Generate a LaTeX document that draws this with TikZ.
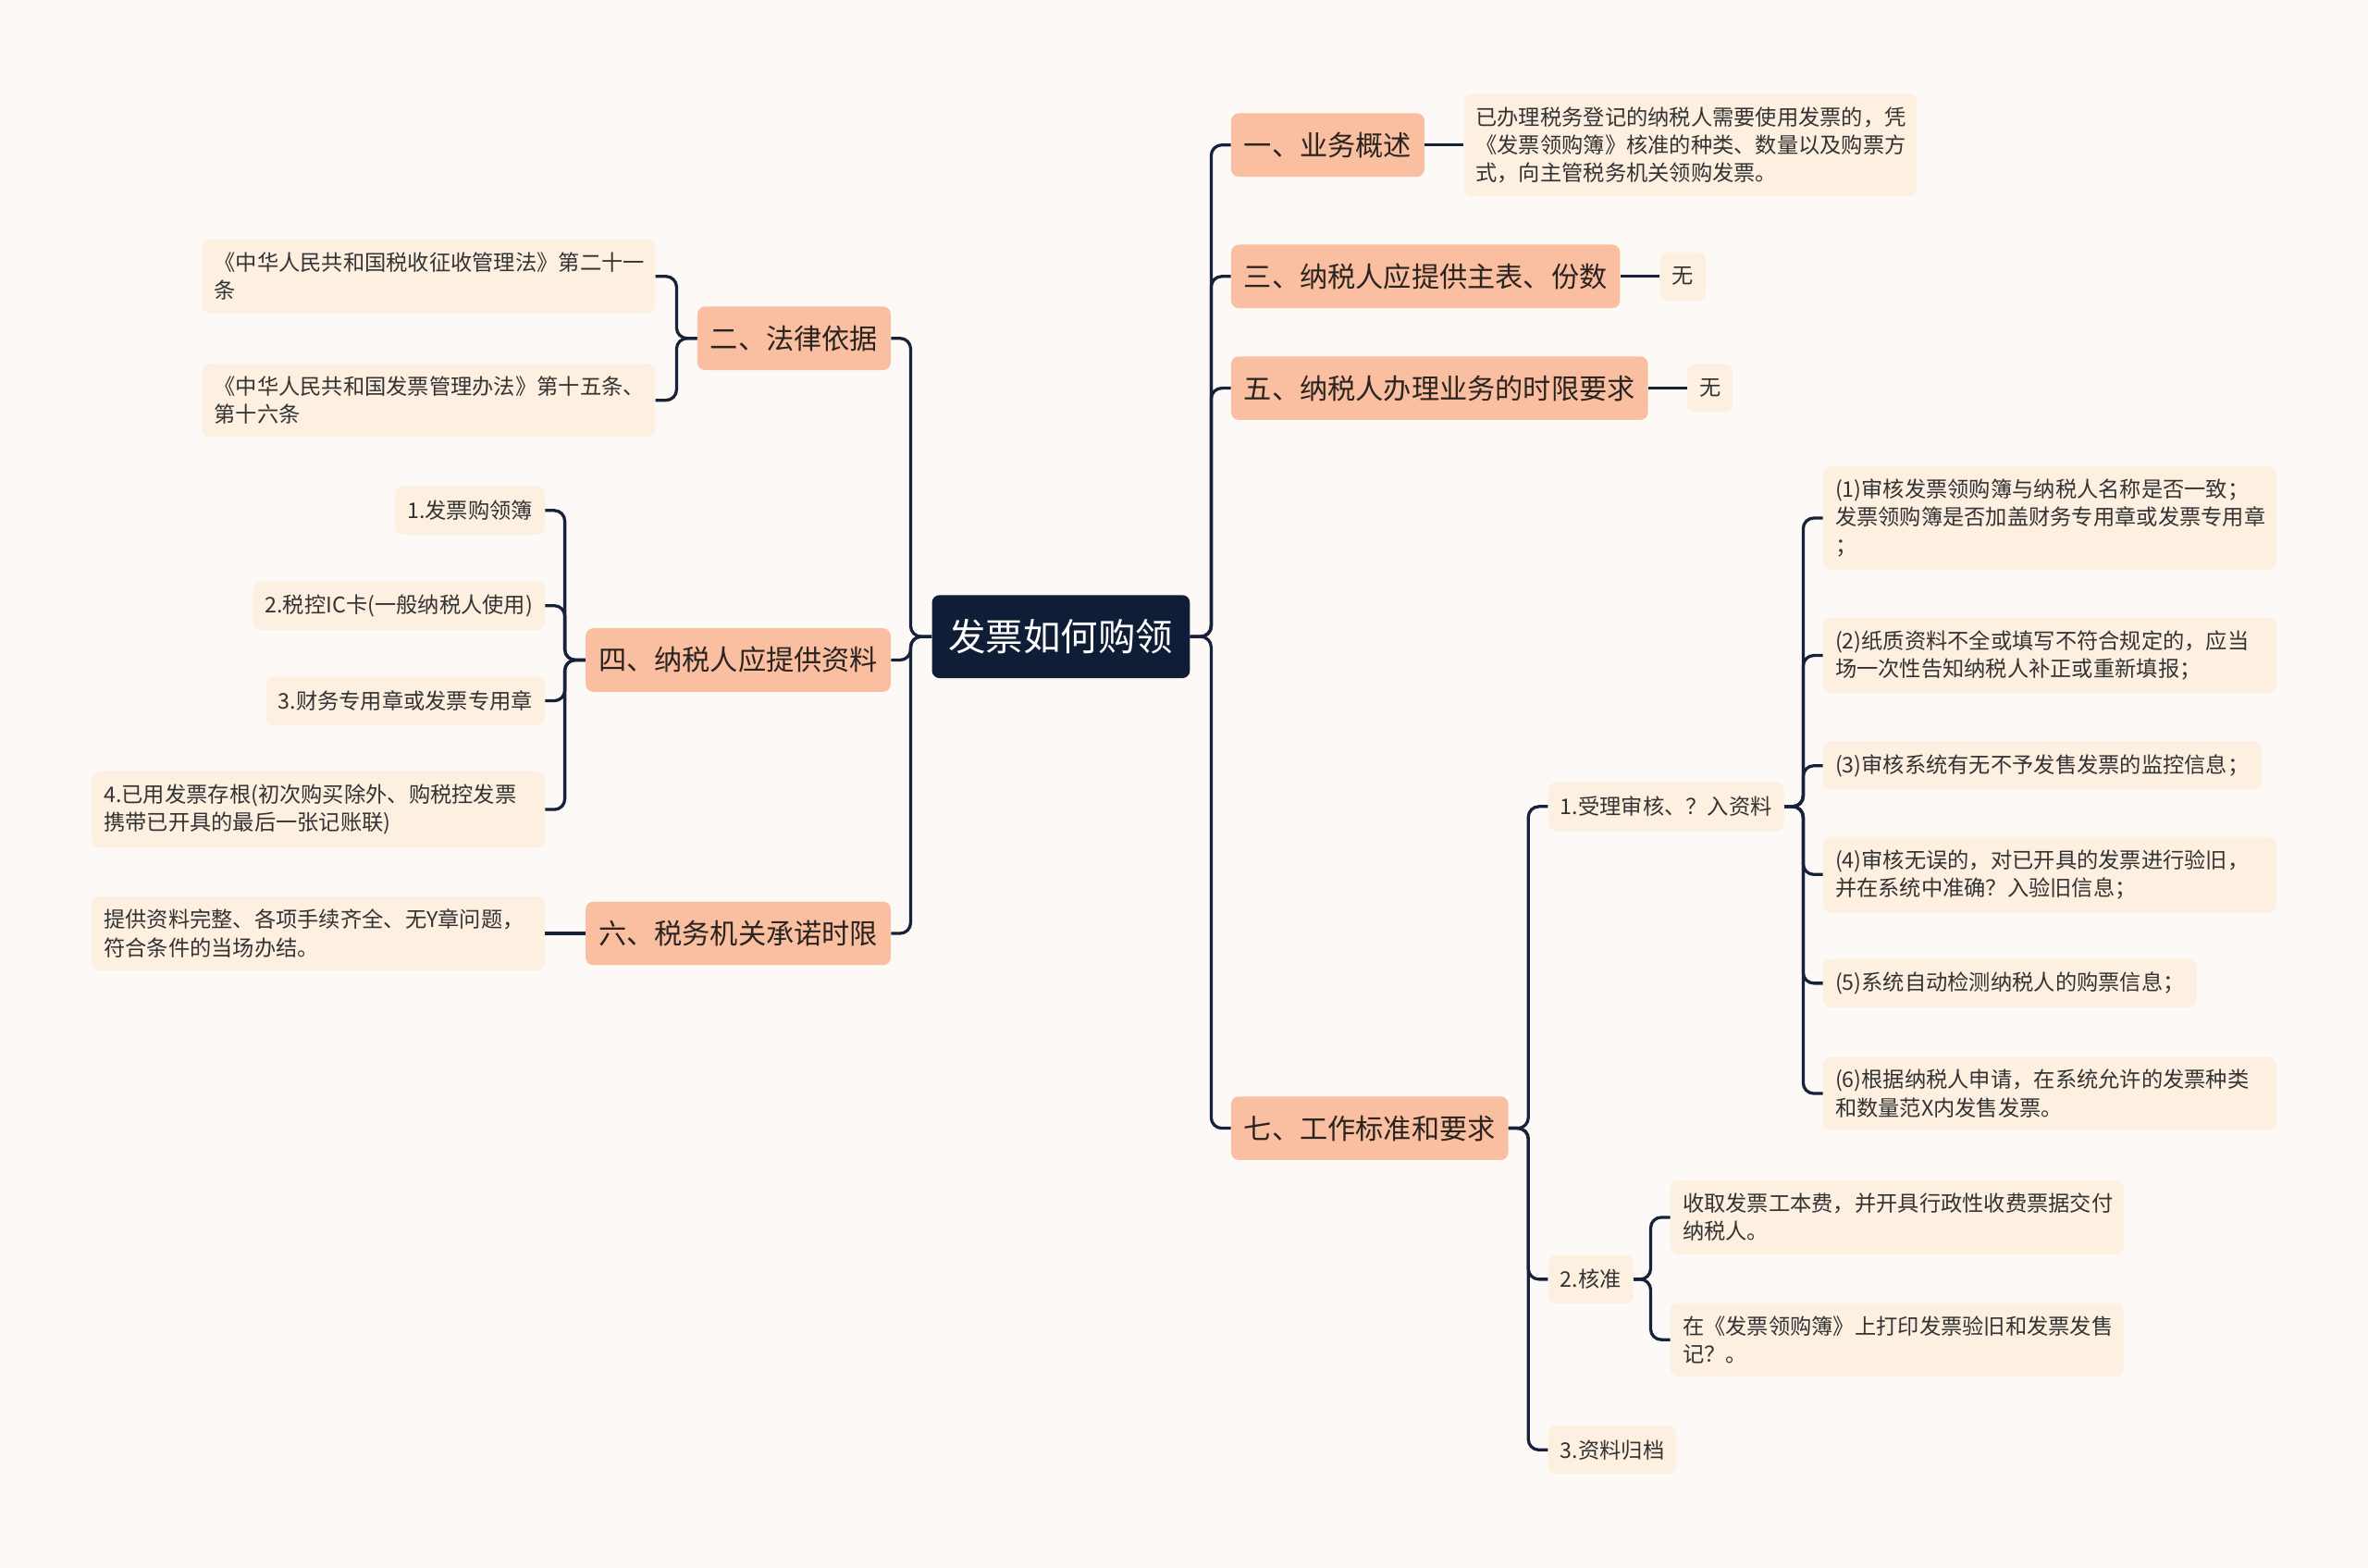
\documentclass[tikz,border=0pt]{standalone}
\usepackage{fontspec}
\newfontfamily\cjk{Noto Sans CJK SC}
\definecolor{paper}{HTML}{FDF9F7}
\definecolor{rootblue}{HTML}{0F1E36}
\definecolor{topicpeach}{HTML}{FABEA0}
\definecolor{leafcream}{HTML}{FDF0E1}
\definecolor{linknavy}{HTML}{16213A}
\definecolor{inkdark}{HTML}{2A2420}
\definecolor{inkgray}{HTML}{333333}

\begin{document}
\begin{tikzpicture}[
            x=1pt, y=-1pt,
            every node/.style={font=\cjk},
            box/.style={rectangle, rounded corners=5pt},
            rootnode/.style={box, fill=rootblue, text=white, font=\cjk\fontsize{24.8}{30}\selectfont, minimum height=55pt, inner xsep=11pt},
            topicnode/.style={box, fill=topicpeach, text=inkdark, font=\cjk\fontsize{18.5}{22}\selectfont, minimum height=42pt, inner xsep=8.5pt},
            leafnode/.style={box, fill=leafcream, text=inkgray, font=\cjk\fontsize{14.25}{18.5}\selectfont, align=left, inner xsep=8pt, inner ysep=8.5pt, minimum height=32pt},
            wrapnode/.style={leafnode, text width=284pt},
            link/.style={draw=linknavy, line width=2pt, rounded corners=7pt}
        ]

        % paper
        \fill[paper] (0,0) rectangle (1568,1038);
        \useasboundingbox (0,0) rectangle (1568,1038);

        % Nodes — root in the middle, topics on both sides
        \node[rootnode] (root) at (702.5,421.5) {发票如何购领};

        \node[topicnode, anchor=west] (t1) at (815,96) {一、业务概述};
        \node[topicnode, anchor=west] (t3) at (815,183) {三、纳税人应提供主表、份数};
        \node[topicnode, anchor=west] (t5) at (815,257) {五、纳税人办理业务的时限要求};
        \node[topicnode, anchor=west] (t7) at (815,747) {七、工作标准和要求};

        \node[topicnode, anchor=east] (t2) at (590,224) {二、法律依据};
        \node[topicnode, anchor=east] (t4) at (590,437) {四、纳税人应提供资料};
        \node[topicnode, anchor=east] (t6) at (590,618) {六、税务机关承诺时限};

        % right leaves
        \node[wrapnode, anchor=west] (l1) at (969,96) {已办理税务登记的纳税人需要使用发票的，凭\\《发票领购簿》核准的种类、数量以及购票方\\式，向主管税务机关领购发票。};
        \node[leafnode, anchor=west] (l3) at (1099,183) {无};
        \node[leafnode, anchor=west] (l5) at (1117,257) {无};

        \node[leafnode, anchor=west] (s1) at (1025,534) {1.受理审核、？入资料};
        \node[leafnode, anchor=west] (s2) at (1025,847) {2.核准};
        \node[leafnode, anchor=west] (s3) at (1025,960) {3.资料归档};

        \node[wrapnode, anchor=west] (a1) at (1207,343) {(1)审核发票领购簿与纳税人名称是否一致；\\发票领购簿是否加盖财务专用章或发票专用章\\；};
        \node[wrapnode, anchor=west] (a2) at (1207,434) {(2)纸质资料不全或填写不符合规定的，应当\\场一次性告知纳税人补正或重新填报；};
        \node[leafnode, anchor=west] (a3) at (1207,507) {(3)审核系统有无不予发售发票的监控信息；};
        \node[wrapnode, anchor=west] (a4) at (1207,579) {(4)审核无误的，对已开具的发票进行验旧，\\并在系统中准确？入验旧信息；};
        \node[leafnode, anchor=west] (a5) at (1207,651) {(5)系统自动检测纳税人的购票信息；};
        \node[wrapnode, anchor=west] (a6) at (1207,724) {(6)根据纳税人申请，在系统允许的发票种类\\和数量范X内发售发票。};

        \node[wrapnode, anchor=west] (b1) at (1106,806) {收取发票工本费，并开具行政性收费票据交付\\纳税人。};
        \node[wrapnode, anchor=west] (b2) at (1106,887) {在《发票领购簿》上打印发票验旧和发票发售\\记？。};

        % left leaves
        \node[wrapnode, anchor=east] (c1) at (434,183) {《中华人民共和国税收征收管理法》第二十一\\条};
        \node[wrapnode, anchor=east] (c2) at (434,265) {《中华人民共和国发票管理办法》第十五条、\\第十六条};

        \node[leafnode, anchor=east] (d1) at (361,338) {1.发票购领簿};
        \node[leafnode, anchor=east] (d2) at (361,401) {2.税控IC卡(一般纳税人使用)};
        \node[leafnode, anchor=east] (d3) at (361,464) {3.财务专用章或发票专用章};
        \node[wrapnode, anchor=east] (d4) at (361,536) {4.已用发票存根(初次购买除外、购税控发票\\携带已开具的最后一张记账联)};

        \node[wrapnode, anchor=east] (e1) at (361,618) {提供资料完整、各项手续齐全、无Y章问题，\\符合条件的当场办结。};

        % === EDGES — spines at fixed x ===
        \coordinate (rspine) at (802,0);
        \coordinate (lspine) at (603,0);
        \coordinate (t2spine) at (448,0);
        \coordinate (t4spine) at (374,0);
        \coordinate (t7spine) at (1012,0);
        \coordinate (s1spine) at (1194,0);
        \coordinate (s2spine) at (1093,0);

        % root -> topics
        \foreach \k in {t1,t3,t5,t7}
            \draw[link] (root.east) -- (root.east -| rspine) |- (\k.west);
        \foreach \k in {t2,t4,t6}
            \draw[link] (root.west) -- (root.west -| lspine) |- (\k.east);

        % topics -> single leaves
        \draw[link] (t1.east) -- (l1.west);
        \draw[link] (t3.east) -- (l3.west);
        \draw[link] (t5.east) -- (l5.west);
        \draw[link] (t6.west) -- (e1.east);

        % 七 -> steps
        \foreach \k in {s1,s2,s3}
            \draw[link] (t7.east) -- (t7.east -| t7spine) |- (\k.west);
        \foreach \k in {a1,a2,a3,a4,a5,a6}
            \draw[link] (s1.east) -- (s1.east -| s1spine) |- (\k.west);
        \foreach \k in {b1,b2}
            \draw[link] (s2.east) -- (s2.east -| s2spine) |- (\k.west);

        % left side
        \foreach \k in {c1,c2}
            \draw[link] (t2.west) -- (t2.west -| t2spine) |- (\k.east);
        \foreach \k in {d1,d2,d3,d4}
            \draw[link] (t4.west) -- (t4.west -| t4spine) |- (\k.east);

    \end{tikzpicture}
\end{document}
